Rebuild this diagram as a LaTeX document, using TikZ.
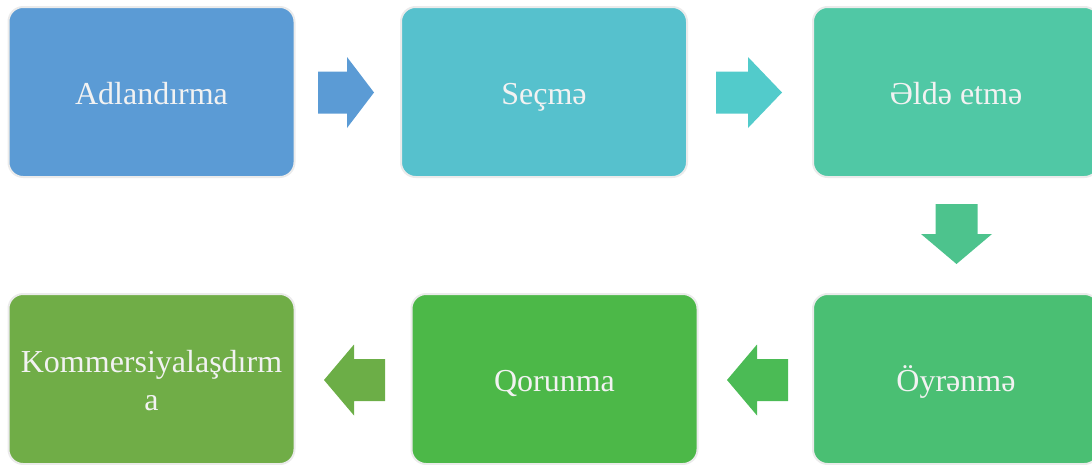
\documentclass[tikz,border=0pt]{standalone}
\usepackage{fontspec}
\setmainfont{Liberation Serif}
\definecolor{boxA}{HTML}{5B9BD5}
\definecolor{boxB}{HTML}{56C1CD}
\definecolor{boxC}{HTML}{50C8A5}
\definecolor{boxD}{HTML}{4ABF73}
\definecolor{boxE}{HTML}{4CB848}
\definecolor{boxF}{HTML}{70AD47}
\definecolor{arrA}{HTML}{5B9BD5}
\definecolor{arrB}{HTML}{52CBCB}
\definecolor{arrC}{HTML}{4DC38D}
\definecolor{arrD}{HTML}{4BBB55}
\definecolor{arrE}{HTML}{6CAE47}
\definecolor{rim}{HTML}{EBEBEB}
\definecolor{label}{HTML}{F2F2F2}
\tikzset{
  stage/.style={rectangle, rounded corners=11pt, draw=rim, line width=1.5pt,
    minimum width=214.5pt, minimum height=127.5pt, inner sep=0pt,
    text=label, font=\fontsize{24}{28}\selectfont, align=center},
  % baseline sits 9pt below the box centre
  oneline/.style={text height=20pt, text depth=2pt},
  % block arrow: back edge at the origin, head base at #1, tip at #2
  pics/flowarrow/.style n args={2}{code={
    \fill[pic actions] (0,-21) -- (#1,-21) -- (#1,-35.5) -- (#2,0)
      -- (#1,35.5) -- (#1,21) -- (0,21) -- cycle;
  }}
}
\begin{document}
\begin{tikzpicture}[x=0.75pt, y=-0.75pt]
\useasboundingbox (0,0) rectangle (1092,464);
\clip (0,0) rectangle (1092,464);
% stages
\node[stage, oneline, fill=boxA] (s1) at (151.5,92) {Adlandırma};
\node[stage, oneline, fill=boxB] (s2) at (544,92) {Seçmə};
\node[stage, oneline, fill=boxC] (s3) at (956,92) {Əldə etmə};
\node[stage, oneline, fill=boxD] (s4) at (956,379) {Öyrənmə};
\node[stage, oneline, fill=boxE] (s5) at (554.5,379) {Qorunma};
\node[stage, fill=boxF] (s6) at (151.5,379) {};
\node[text=label, font=\fontsize{24}{28}\selectfont, align=center, inner sep=0pt,
  anchor=base] (s6text) at (151.5,410) {Kommersiyalaşdırm\\a};
% arrows between stages
\pic[fill=arrA] at (318,92.5) {flowarrow={29}{56}};
\pic[fill=arrB] at (716,92.5) {flowarrow={32}{66}};
\pic[fill=arrC, rotate=-90] at (956.5,204) {flowarrow={30}{60}};
\pic[fill=arrD, rotate=180] at (788,380) {flowarrow={31}{61}};
\pic[fill=arrE, rotate=180] at (385,380) {flowarrow={31}{61}};
\end{tikzpicture}
\end{document}
